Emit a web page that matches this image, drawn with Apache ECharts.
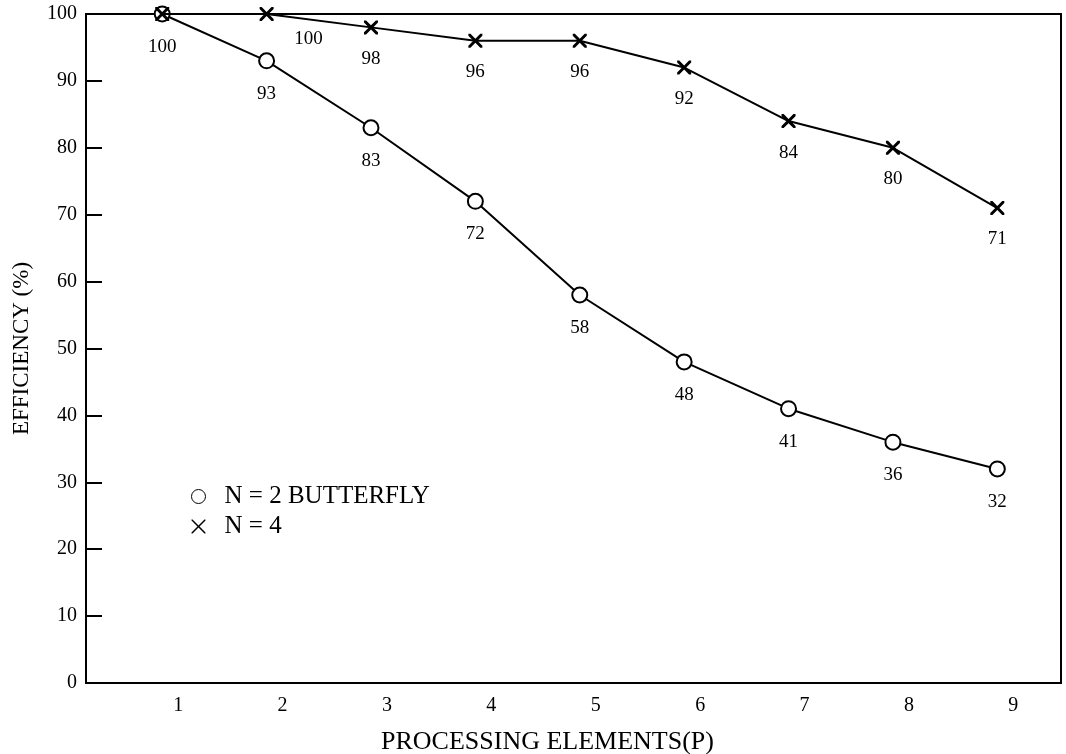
<!DOCTYPE html>
<html lang="en">
<head>
    <meta charset="UTF-8">
    <title>Efficiency</title>
    <script src="https://cdn.jsdelivr.net/npm/echarts@6/dist/echarts.min.js"></script>
    <style>
        html, body {
            margin: 0;
            height: 100%;
            background: #fff;
        }
    </style>
</head>
<body>
<div id="main" style="width: 1066px;height: 754px"></div>
</body>
</html>
<script>
    // processing elements on the x axis
    var pe = [1, 2, 3, 4, 5, 6, 7, 8, 9];
    // N=2 butterfly efficiency (%)
    var butterfly = [100, 93, 83, 72, 58, 48, 41, 36, 32];
    // N=4 efficiency (%)
    var radix4 = [100, 100, 98, 96, 96, 92, 84, 80, 71];
    var xTicks = [1, 2, 3, 4, 5, 6, 7, 8, 9];

    var font = '"Liberation Serif", "DejaVu Serif", serif';
    var crossPath = 'path://M0,0 L3,0 L10,7 L17,0 L20,0 L20,3 L13,10 L20,17 L20,20 L17,20 L10,13 L3,20 L0,20 L0,17 L7,10 L0,3 Z';
    var crossThin = 'path://M0,0 L1.5,0 L10,8.5 L18.5,0 L20,0 L20,1.5 L11.5,10 L20,18.5 L20,20 L18.5,20 L10,11.5 L1.5,20 L0,20 L0,18.5 L8.5,10 L0,1.5 Z';

    function pairs(ys) {
        var out = [];
        for (var i = 0; i < pe.length; i++) {
            out.push([pe[i], ys[i]]);
        }
        return out;
    }

    var circleData = pairs(butterfly);
    var crossData = pairs(radix4);
    // first N=4 label sits on top of the butterfly one, second one is shifted right
    crossData[0] = {value: crossData[0], label: {show: false}};
    crossData[1] = {value: crossData[1], label: {offset: [42, -6]}};

    var myChart = echarts.init(document.getElementById('main'));
    var labelStyle = {
        show: true,
        position: 'bottom',
        distance: 15,
        color: '#000',
        fontFamily: font,
        fontSize: 19
    };
    var option = {
        backgroundColor: '#fff',
        animation: false,
        grid: {
            left: 86, right: 5, top: 14, bottom: 71,
            outerBoundsMode: 'none',
            containLabel: false,
            show: true,
            borderColor: '#000',
            borderWidth: 2
        },
        legend: {
            orient: 'vertical',
            left: 186,
            top: 479,
            itemGap: 5,
            itemWidth: 14,
            itemHeight: 14,
            textStyle: {fontFamily: font, fontSize: 25, color: '#000', padding: [0, 0, 0, 14]},
            data: [
                {name: 'N = 2 BUTTERFLY', icon: 'circle', itemStyle: {color: '#fff', borderColor: '#000', borderWidth: 1}},
                {name: 'N = 4', icon: crossThin, itemStyle: {color: '#000', borderWidth: 0}}
            ]
        },
        xAxis: {
            type: 'value',
            min: 0.27,
            max: 9.61,
            name: 'PROCESSING ELEMENTS(P)',
            nameLocation: 'middle',
            nameGap: 46,
            nameTextStyle: {fontFamily: font, fontSize: 26, color: '#000', padding: [0, 52, 0, 0]},
            splitLine: {show: false},
            axisLine: {lineStyle: {color: '#000', width: 2}},
            axisTick: {show: false},
            axisLabel: {
                customValues: xTicks,
                margin: 13,
                fontFamily: font,
                fontSize: 20,
                color: '#000',
                padding: [0, 0, 0, 32]
            }
        },
        yAxis: {
            type: 'value',
            min: 0,
            max: 100,
            interval: 10,
            name: 'EFFICIENCY (%)',
            nameLocation: 'middle',
            nameGap: 53,
            nameTextStyle: {fontFamily: font, fontSize: 23, color: '#000'},
            splitLine: {show: false},
            axisLine: {lineStyle: {color: '#000', width: 2}},
            axisTick: {inside: true, length: 16, lineStyle: {color: '#000', width: 2}},
            axisLabel: {margin: 9, fontFamily: font, fontSize: 20, color: '#000'}
        },
        series: [
            {
                name: 'N = 2 BUTTERFLY',
                type: 'line',
                data: circleData,
                symbol: 'circle',
                symbolSize: 15,
                itemStyle: {color: '#fff', borderColor: '#000', borderWidth: 2},
                lineStyle: {color: '#000', width: 2},
                label: labelStyle,
                z: 3
            },
            {
                name: 'N = 4',
                type: 'line',
                data: crossData,
                symbol: crossPath,
                symbolSize: 14,
                itemStyle: {color: '#000', borderWidth: 0},
                lineStyle: {color: '#000', width: 2},
                label: labelStyle,
                z: 4
            }
        ]
    };
    myChart.setOption(option);
</script>
